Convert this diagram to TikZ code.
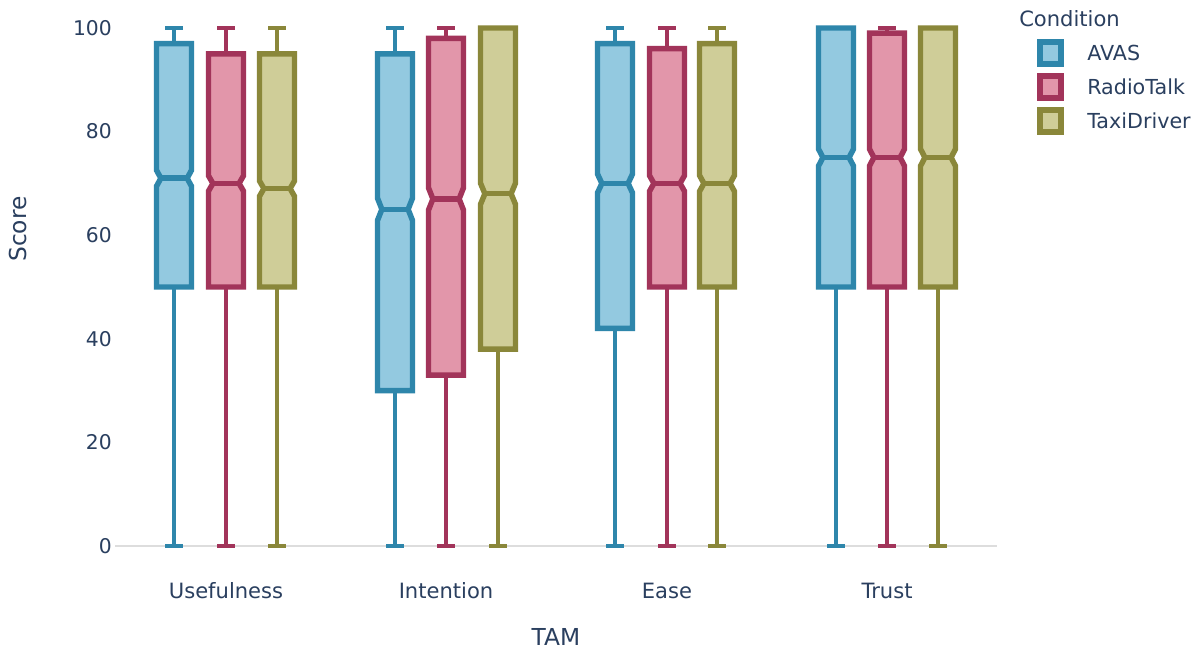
\documentclass[tikz,border=0pt]{standalone}
\usepackage{fontspec}
\setmainfont{DejaVu Sans}
\definecolor{txt}{HTML}{2A3F5F}
\definecolor{avasS}{HTML}{2E86AB}
\definecolor{avasF}{HTML}{93C9E0}
\definecolor{radioS}{HTML}{A2345A}
\definecolor{radioF}{HTML}{E296AA}
\definecolor{taxiS}{HTML}{8A873A}
\definecolor{taxiF}{HTML}{CFCD98}
\definecolor{axisgray}{HTML}{DDDDDD}
\tikzset{
  whisk/.style={line width=3.4pt, line cap=butt},
  boxs/.style={line width=4.1pt, line join=miter},
  ticklab/.style={text=txt, font=\fontsize{15.2}{18}\selectfont, inner sep=0pt},
  xlab/.style={text=txt, font=\fontsize{15.8}{18}\selectfont, inner sep=0pt},
  titlelab/.style={text=txt, font=\fontsize{17.5}{20}\selectfont, inner sep=0pt},
  leglab/.style={text=txt, font=\fontsize{15.5}{18}\selectfont, inner sep=0pt, anchor=west},
  legtitle/.style={text=txt, font=\fontsize{15.8}{18}\selectfont, inner sep=0pt, anchor=west},
  legbox/.style={line width=4.7pt, minimum size=16pt, inner sep=0pt},
}
\newcommand\bxplt[8]{%
 \pgfmathsetmacro\ymin{546-5.18*#2}%
 \pgfmathsetmacro\yqa{546-5.18*#3}%
 \pgfmathsetmacro\ymed{546-5.18*#4}%
 \pgfmathsetmacro\yqc{546-5.18*#5}%
 \pgfmathsetmacro\ymax{546-5.18*#6}%
 \pgfmathsetmacro\nh{0.033*(#5-#3)*5.18}%
 \pgfmathsetmacro\ymedA{\ymed+\nh}%
 \pgfmathsetmacro\ymedB{\ymed-\nh}%
 \pgfmathsetmacro\xl{#1-17.5}\pgfmathsetmacro\xr{#1+17.5}%
 \pgfmathsetmacro\xnl{#1-13.1}\pgfmathsetmacro\xnr{#1+13.1}%
 \pgfmathsetmacro\xcl{#1-9}\pgfmathsetmacro\xcr{#1+9}%
 \draw[whisk,#7] (#1,\yqa) -- (#1,\ymin) (\xcl,\ymin) -- (\xcr,\ymin);
 \draw[whisk,#7] (#1,\yqc) -- (#1,\ymax) (\xcl,\ymax) -- (\xcr,\ymax);
 \draw[boxs,draw=#7,fill=#8] (\xl,\yqa) -- (\xl,\ymedA) -- (\xnl,\ymed) -- (\xl,\ymedB) -- (\xl,\yqc) -- (\xr,\yqc) -- (\xr,\ymedB) -- (\xnr,\ymed) -- (\xr,\ymedA) -- (\xr,\yqa) -- cycle;
 \draw[boxs,draw=#7] (\xnl,\ymed) -- (\xnr,\ymed);
}
\begin{document}
\begin{tikzpicture}[x=0.75pt,y=-0.75pt]
\useasboundingbox (0,0) rectangle (1203,650);
\fill[white] (0,0) rectangle (1203,650);
% zero line
\coordinate (z0) at (115,546);
\coordinate (z1) at (997,546);
\draw[axisgray, line width=1.5pt] (z0) -- (z1);
% y ticks
\foreach \v in {0,20,40,60,80,100}{
  \node[ticklab, anchor=east] (yt\v) at (112,{546-5.18*\v}) {\v};
}
% boxes: cx, min, q1, med, q3, max
\bxplt{174}{0}{50}{71}{97}{100}{avasS}{avasF}
\bxplt{226}{0}{50}{70}{95}{100}{radioS}{radioF}
\bxplt{277}{0}{50}{69}{95}{100}{taxiS}{taxiF}
\bxplt{395}{0}{30}{65}{95}{100}{avasS}{avasF}
\bxplt{446}{0}{33}{67}{98}{100}{radioS}{radioF}
\bxplt{498}{0}{38}{68}{100}{100}{taxiS}{taxiF}
\bxplt{615}{0}{42}{70}{97}{100}{avasS}{avasF}
\bxplt{667}{0}{50}{70}{96}{100}{radioS}{radioF}
\bxplt{717}{0}{50}{70}{97}{100}{taxiS}{taxiF}
\bxplt{836}{0}{50}{75}{100}{100}{avasS}{avasF}
\bxplt{887}{0}{50}{75}{99}{100}{radioS}{radioF}
\bxplt{938}{0}{50}{75}{100}{100}{taxiS}{taxiF}
% x tick labels
\node[xlab] (xu) at (226,591) {Usefulness};
\node[xlab] (xi) at (446,591) {Intention};
\node[xlab] (xe) at (667,591) {Ease};
\node[xlab] (xt) at (887,591) {Trust};
% axis titles
\node[titlelab] (tam) at (556,637) {TAM};
\node[titlelab, rotate=90] (score) at (18.5,229) {Score};
% legend
\node[legtitle] (legt) at (1019,19) {Condition};
\node[legbox, draw=avasS, fill=avasF] (l1) at (1050.5,53) {};
\node[legbox, draw=radioS, fill=radioF] (l2) at (1050.5,87) {};
\node[legbox, draw=taxiS, fill=taxiF] (l3) at (1050.5,121) {};
\node[leglab] (l1t) at (1087,53) {AVAS};
\node[leglab] (l2t) at (1087,87) {RadioTalk};
\node[leglab] (l3t) at (1087,121) {TaxiDriver};
\end{tikzpicture}
\end{document}
